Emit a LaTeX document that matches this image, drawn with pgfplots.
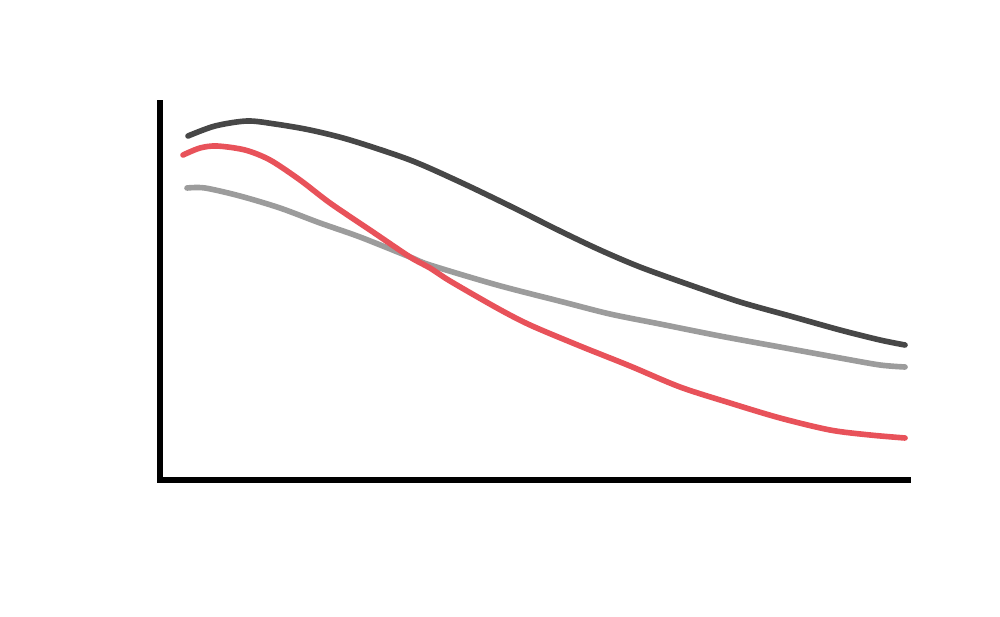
\documentclass[border=0pt]{standalone}
\usepackage{pgfplots}
\pgfplotsset{compat=1.18}
\definecolor{darkline}{HTML}{474747}
\definecolor{redline}{HTML}{E8525A}
\definecolor{grayline}{HTML}{9C9C9C}
\begin{document}
\begin{tikzpicture}
\path[use as bounding box] (0,0) rectangle (20cm,12.32cm);
\begin{axis}[
  at={(3.2cm,2.72cm)}, anchor=south west,
  scale only axis, width=14.96cm, height=7.54cm,
  xmin=160, xmax=908, ymin=136, ymax=513,
  axis x line=bottom, axis y line=left,
  axis line style={-, line width=3.4pt, black, line cap=rect},
  ticks=none, clip=false,
  every axis plot/.append style={line width=3.2pt, line cap=round, line join=round, smooth, tension=0.5, mark=none},
]
% values are 616 - pixel row
\addplot[darkline] coordinates {
(188,480) (215,490) (247,495) (275,492) (310,486) (350,476) (410,456) (460,434) (510,410) (560,385) (600,366) (640,349) (690,331) (740,314) (790,300) (840,286) (880,276) (905,271)};
\addplot[grayline] coordinates {
(187,428) (205,428) (240,420) (280,408) (320,393) (360,379) (410,359) (430,351) (497,331) (563,314) (610,302) (660,292) (720,280) (780,269) (840,258) (880,251) (905,249)};
\addplot[redline] coordinates {
(183,461) (200,468) (217,470) (245,466) (270,456) (300,436) (330,413) (370,386) (410,359) (430,348) (450,335) (497,308) (530,291) (580,270) (630,250) (680,229) (730,213) (780,198) (830,186) (870,181) (905,178)};
\end{axis}
\end{tikzpicture}
\end{document}
